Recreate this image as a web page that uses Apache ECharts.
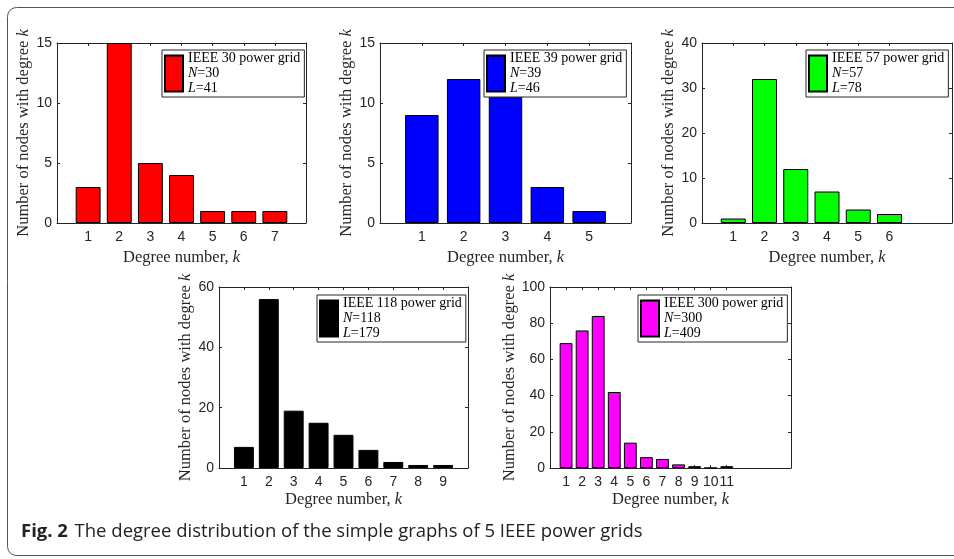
<!DOCTYPE html>
<html>
<head>
<meta charset="utf-8">
<script src="https://cdn.jsdelivr.net/npm/echarts@6/dist/echarts.min.js"></script>
<style>
html,body{margin:0;padding:0;background:#fff;}
#chart{width:954px;height:559px;}
</style>
</head>
<body>
<div id="chart"></div>
<script>
// ---- data ----
const degrees30 = [1, 2, 3, 4, 5, 6, 7];
const counts30 = [3, 15, 5, 4, 1, 1, 1];
const degrees39 = [1, 2, 3, 4, 5];
const counts39 = [9, 12, 14, 3, 1];
const degrees57 = [1, 2, 3, 4, 5, 6];
const counts57 = [1, 32, 12, 7, 3, 2];
const degrees118 = [1, 2, 3, 4, 5, 6, 7, 8, 9];
const counts118 = [7, 56, 19, 15, 11, 6, 2, 1, 1];
const degrees300 = [1, 2, 3, 4, 5, 6, 7, 8, 9, 10, 11];
const counts300 = [69, 76, 84, 42, 14, 6, 5, 2, 1, 0, 1];
const gridNames = ['IEEE 30 power grid', 'IEEE 39 power grid', 'IEEE 57 power grid', 'IEEE 118 power grid', 'IEEE 300 power grid'];
const nodeCounts = [30, 39, 57, 118, 300];
const linkCounts = [41, 46, 78, 179, 409];
const xTitle = 'Degree number, {i|k}';
const yTitle = 'Number of nodes with degree {i|k}';
const caption = 'The degree distribution of the simple graphs of 5 IEEE power grids';

// ---- layout / style ----
const panels = [
  {deg: degrees30, cnt: counts30, color: '#ff0000', xMax: 8, yMax: 15, yInt: 5, box: {left: 57, top: 43, width: 249, height: 180}, leg: {left: 162, top: 50}},
  {deg: degrees39, cnt: counts39, color: '#0000ff', xMax: 6, yMax: 15, yInt: 5, box: {left: 380, top: 43, width: 251, height: 180}, leg: {left: 484, top: 50}},
  {deg: degrees57, cnt: counts57, color: '#00ff00', xMax: 8, yMax: 40, yInt: 10, box: {left: 702, top: 43, width: 250, height: 180}, leg: {left: 806, top: 50}},
  {deg: degrees118, cnt: counts118, color: '#000000', xMax: 10, yMax: 60, yInt: 20, box: {left: 219, top: 287, width: 249, height: 181}, leg: {left: 317, top: 295}},
  {deg: degrees300, cnt: counts300, color: '#ff00ff', xMax: 15, yMax: 100, yInt: 20, box: {left: 550, top: 287, width: 241, height: 181}, leg: {left: 638, top: 295}}
];
const ink = '#262626';
const serif = "'Liberation Serif', 'Times New Roman', serif";
const sans = "'Liberation Sans', Arial, sans-serif";
const lineStyle = {color: ink, width: 1};
const nameRich = {i: {fontStyle: 'italic', fontFamily: serif, fontSize: 16.5, color: ink}};

const grid = [], xAxis = [], yAxis = [], series = [], legend = [];
panels.forEach((p, gi) => {
  grid.push(Object.assign({}, p.box, {containLabel: false}));
  xAxis.push({
    gridIndex: gi, type: 'value', position: 'bottom', min: 0, max: p.xMax, interval: 1,
    axisLine: {show: true, onZero: false, lineStyle},
    axisTick: {show: true, inside: true, length: 3, lineStyle, customValues: p.deg},
    axisLabel: {show: true, color: ink, fontFamily: sans, fontSize: 14, margin: 7, customValues: p.deg},
    splitLine: {show: false},
    name: xTitle, nameLocation: 'middle', nameGap: gi < 3 ? 26 : 23,
    nameTextStyle: {fontFamily: serif, fontSize: 16.5, color: ink, rich: nameRich}
  });
  xAxis.push({
    gridIndex: gi, type: 'value', position: 'top', min: 0, max: p.xMax, interval: 1,
    axisLine: {show: true, onZero: false, lineStyle},
    axisTick: {show: true, inside: true, length: 3, lineStyle, customValues: p.deg},
    axisLabel: {show: false}, splitLine: {show: false}
  });
  yAxis.push({
    gridIndex: gi, type: 'value', position: 'left', min: 0, max: p.yMax, interval: p.yInt,
    axisLine: {show: true, onZero: false, lineStyle},
    axisTick: {show: true, inside: true, length: 3, lineStyle},
    axisLabel: {show: true, color: ink, fontFamily: sans, fontSize: 14, margin: 5},
    splitLine: {show: false},
    name: yTitle, nameLocation: 'middle', nameRotate: 90, nameGap: 24,
    nameTextStyle: {fontFamily: serif, fontSize: 16.5, color: ink, rich: nameRich}
  });
  yAxis.push({
    gridIndex: gi, type: 'value', position: 'right', min: 0, max: p.yMax, interval: p.yInt,
    axisLine: {show: true, onZero: false, lineStyle},
    axisTick: {show: true, inside: true, length: 3, lineStyle},
    axisLabel: {show: false}, splitLine: {show: false}
  });
  series.push({
    name: gridNames[gi], type: 'bar', xAxisIndex: gi * 2, yAxisIndex: gi * 2,
    barWidth: '80%',
    itemStyle: {color: p.color, borderColor: '#000', borderWidth: 1},
    data: p.deg.map((k, i) => [k, p.cnt[i]]),
    silent: true, animation: false
  });
  legend.push({
    data: [gridNames[gi]], left: p.leg.left, top: p.leg.top, orient: 'vertical',
    icon: 'rect', itemWidth: 18, itemHeight: 36, selectedMode: false,
    padding: [1, 4, 1, 2], borderColor: ink, borderWidth: 1, borderRadius: 0, backgroundColor: '#fff',
    textStyle: {fontFamily: serif, fontSize: 14, color: '#000', lineHeight: 15,
      rich: {t: {fontFamily: serif, fontSize: 14, lineHeight: 15, color: '#000'},
             i: {fontFamily: serif, fontSize: 14, lineHeight: 15, fontStyle: 'italic', color: '#000'}}},
    formatter: () => '{t|' + gridNames[gi] + '}\n{i|N}{t|=' + nodeCounts[gi] + '}\n{i|L}{t|=' + linkCounts[gi] + '}'
  });
});

const chart = echarts.init(document.getElementById('chart'), null, {renderer: 'canvas'});
chart.setOption({
  animation: false,
  backgroundColor: '#fff',
  grid, xAxis, yAxis, series, legend,
  graphic: [
    {type: 'rect', z: -1, silent: true, shape: {x: 7.5, y: 7.5, width: 1000, height: 548, r: 9},
     style: {fill: 'none', stroke: '#555', lineWidth: 1}},
    {type: 'text', left: 21, top: 522, silent: true,
     style: {text: '{b|Fig. 2}  {r|' + caption + '}',
       rich: {b: {fontFamily: "'Open Sans', sans-serif", fontWeight: 'bold', fontSize: 18.5, fill: '#222'},
              r: {fontFamily: "'Open Sans', sans-serif", fontSize: 18.5, fill: '#222'}}}}
  ]
});
</script>
</body>
</html>
